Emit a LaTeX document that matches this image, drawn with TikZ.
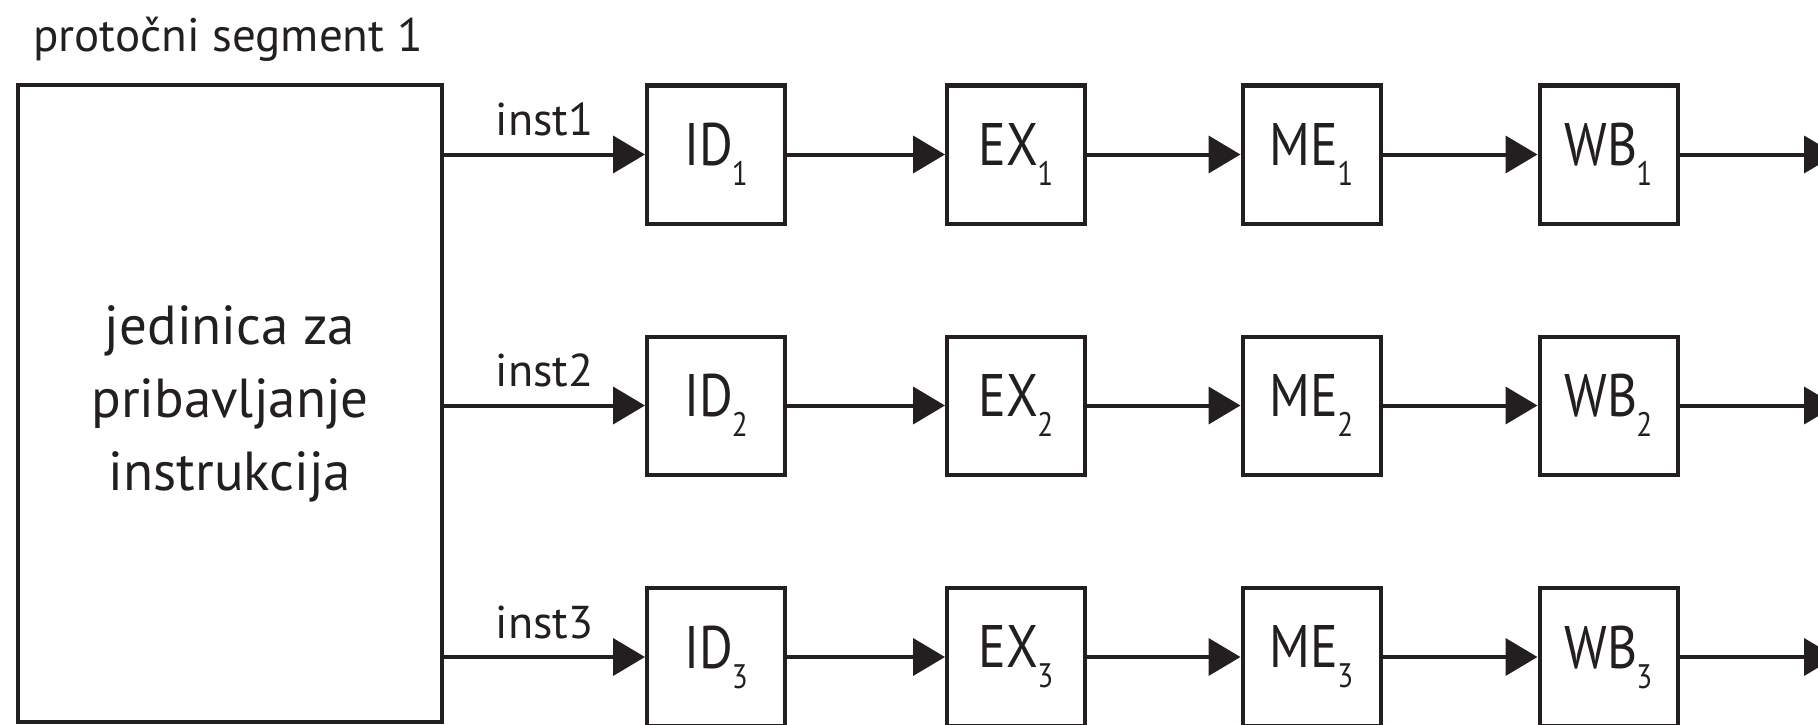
\documentclass[tikz,border=0pt]{standalone}
\usepackage{fontspec}
\setmainfont{PT Sans}
\newfontfamily\stagefont{PT Sans}[FakeStretch=0.86]
\usetikzlibrary{arrows.meta}
\definecolor{ink}{RGB}{35,31,32}
\newcommand\stsub[1]{\kern-1pt\raisebox{-20pt}{\fontsize{34}{34}\selectfont #1}}
\begin{document}
\begin{tikzpicture}[x=1pt,y=-1pt,
  stage/.style={draw=ink, line width=4pt, minimum width=138pt, minimum height=138pt, inner sep=0pt, font=\stagefont\fontsize{60}{60}\selectfont, text=ink},
  unit/.style={draw=ink, line width=4pt, minimum width=424pt, minimum height=637pt, inner sep=0pt, align=center, font=\fontsize{55}{73}\selectfont, text=ink},
  arr/.style={draw=ink, line width=4pt, -{Triangle[length=32pt,width=37pt]}},
  lbl/.style={font=\fontsize{46}{46}\selectfont, text=ink, inner sep=0pt, anchor=base, yshift=19pt},
  title/.style={font=\fontsize{47}{47}\selectfont, text=ink, inner sep=0pt, anchor=base west}]
\useasboundingbox (0,0) rectangle (1818,725);
\clip (0,0) rectangle (1818,725);
\node[title] (title) at (33,52) {protočni segment 1};
\node[unit] (unit) at (230,403.5) {jedinica za\\pribavljanje\\instrukcija};
\foreach \r/\y in {1/154.5,2/405.5,3/657} {
  \node[stage] (id\r) at (716,\y) {ID\stsub{\r}};
  \node[stage] (ex\r) at (1016,\y) {EX\stsub{\r}};
  \node[stage] (me\r) at (1311.5,\y) {ME\stsub{\r}};
  \node[stage] (wb\r) at (1608.5,\y) {WB\stsub{\r}};
  \coordinate (out\r) at (1836,\y);
  \draw[arr] (unit.east |- id\r.west) -- node[lbl] {inst\r} (id\r.west);
  \draw[arr] (id\r) -- (ex\r);
  \draw[arr] (ex\r) -- (me\r);
  \draw[arr] (me\r) -- (wb\r);
  \draw[arr] (wb\r) -- (out\r);
}
\end{tikzpicture}
\end{document}
